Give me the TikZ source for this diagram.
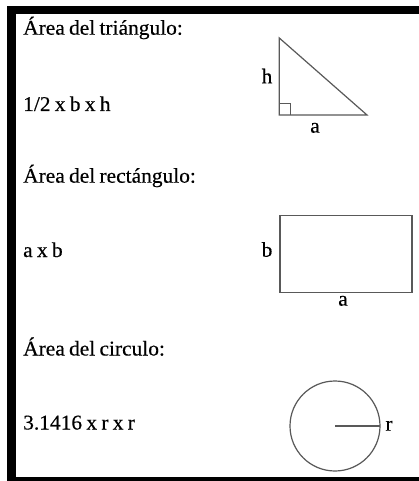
\documentclass[tikz,border=0pt]{standalone}
\usepackage{fontspec}
\setmainfont{Liberation Serif}[FakeStretch=1.02,FakeBold=0.4,WordSpace=0.8]
\begin{document}
\begin{tikzpicture}[x=1pt,y=-1pt,
  txt/.style={anchor=base west,inner sep=0pt,font=\fontsize{21}{25}\selectfont},
  lbl/.style={anchor=base,inner sep=0pt,font=\fontsize{21}{25}\selectfont},
  shp/.style={draw=black!65,line width=1.2pt},
  bar/.style={fill=black,draw=none}]
\useasboundingbox (0,0) rectangle (419,481);
\fill[white] (0,0) rectangle (419,481);
% border
\fill[bar] (7,6) rectangle (419,14.5);
\fill[bar] (7,6) rectangle (15.5,481);
\fill[bar] (7,477) rectangle (419,481);
% texts
\node[txt] (t1) at (23,34.7) {Área del triángulo:};
\node[txt] (f1) at (23,111) {1/2 x b x h};
\node[txt] (t2) at (23,182.7) {Área del rectángulo:};
\node[txt] (f2) at (23,257) {a x b};
\node[txt] (t3) at (23,355.5) {Área del circulo:};
\node[txt] (f3) at (23,429.5) {3.1416 x r x r};
% triangle
\coordinate (A) at (279.3,38);
\coordinate (B) at (279.3,115);
\coordinate (C) at (367,115);
\draw[shp,line join=miter] (A) -- (B) -- (C) -- cycle;
\draw[shp] (279.3,103.7) -- (290.6,103.7) -- (290.6,115);
\node[lbl] (h) at (267,83.3) {h};
\node[lbl] (ta) at (315,132.7) {a};
% rectangle
\draw[shp] (280,215.7) rectangle (412,292.7);
\node[lbl] (rb) at (267,256.7) {b};
\node[lbl] (ra) at (343,305.7) {a};
% circle
\coordinate (O) at (335,426);
\coordinate (R) at (380,426);
\draw[shp] (O) circle[radius=45];
\draw[shp] (O) -- (R);
\node[lbl] (r) at (389,430.7) {r};
\end{tikzpicture}
\end{document}
